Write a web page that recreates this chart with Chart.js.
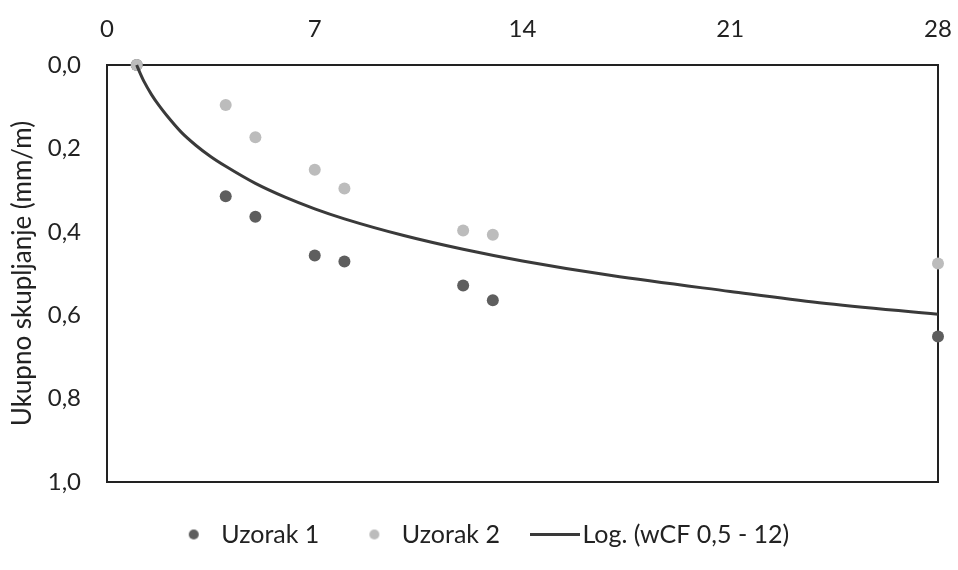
<!DOCTYPE html>
<html><head><meta charset="utf-8">
<script src="https://cdn.jsdelivr.net/npm/chart.js@4.4.0/dist/chart.umd.min.js"></script>
<style>html,body{margin:0;padding:0;background:#fff;} canvas{display:block;}</style>
</head><body>
<canvas id="c" width="958" height="570"></canvas>
<script>
const days = [1, 4, 5, 7, 8, 12, 13, 28];
const uzorak1 = [0, 0.315, 0.364, 0.457, 0.471, 0.529, 0.564, 0.651];
const uzorak2 = [0, 0.096, 0.173, 0.251, 0.296, 0.397, 0.407, 0.476];
const trendDays = [1, 1.1, 1.25, 1.5, 1.75, 2, 2.5, 3, 3.5, 4, 5, 6, 7, 8, 10, 12, 14, 17, 21, 24, 28];
const trendValues = [0, 0.017, 0.04, 0.071, 0.097, 0.12, 0.161, 0.193, 0.22, 0.243, 0.284, 0.317, 0.345, 0.369, 0.409, 0.442, 0.47, 0.505, 0.543, 0.57, 0.598];
const xTickValues = [0, 7, 14, 21, 28];
const yTickValues = [0, 0.2, 0.4, 0.6, 0.8, 1.0];
const seriesNames = ['Uzorak 1', 'Uzorak 2', 'Log. (wCF 0,5 - 12)'];
const yTitle = 'Ukupno skupljanje (mm/m)';

const C1 = '#5e5e5e', C2 = '#bcbcbc', CL = '#3a3a3a', TXT = '#222222';
const FONT = 'Lato';

function dotImg(color, r) {
  const c = document.createElement('canvas');
  c.width = c.height = 2 * r + 2;
  const x = c.getContext('2d');
  x.fillStyle = color; x.beginPath(); x.arc(r + 1, r + 1, r, 0, Math.PI * 2); x.fill();
  return c;
}
function lineImg(color, w, h) {
  const c = document.createElement('canvas');
  c.width = w; c.height = h + 2;
  const x = c.getContext('2d');
  x.fillStyle = color; x.fillRect(0, 1, w, h);
  return c;
}
const legendIcons = [dotImg(C1, 5), dotImg(C2, 5), lineImg(CL, 50, 3)];

const frame = {
  id: 'frame',
  afterLayout(chart) {
    if (chart.legend) chart.legend.left += 30;
  },
  beforeDatasetsDraw(chart) {
    const {ctx, chartArea: a} = chart;
    ctx.save();
    ctx.strokeStyle = '#222';
    ctx.lineWidth = 2;
    ctx.strokeRect(a.left, a.top, a.right - a.left, a.bottom - a.top);
    ctx.restore();
  }
};

const toPts = (xs, ys) => xs.map((x, i) => ({x, y: ys[i]}));
const fmt = v => v.toFixed(1).replace('.', ',');

new Chart(document.getElementById('c'), {
  type: 'scatter',
  data: {
    datasets: [
      {label: seriesNames[0], data: toPts(days, uzorak1), backgroundColor: C1, borderWidth: 0, pointRadius: 6, order: 2, clip: false},
      {label: seriesNames[1], data: toPts(days, uzorak2), backgroundColor: C2, borderWidth: 0, pointRadius: 6, order: 1, clip: false},
      {label: seriesNames[2], type: 'line', data: toPts(trendDays, trendValues), borderColor: CL, borderWidth: 3, pointRadius: 0, fill: false, cubicInterpolationMode: 'monotone', order: 0, clip: false}
    ]
  },
  options: {
    responsive: false,
    animation: false,
    devicePixelRatio: 1,
    layout: {padding: {left: 0, right: 20, top: 0, bottom: 13}},
    plugins: {
      tooltip: {enabled: false},
      legend: {
        position: 'bottom',
        labels: {
          usePointStyle: true,
          pointStyleWidth: 30,
          padding: 40,
          color: TXT,
          font: {family: FONT, size: 25},
          generateLabels: chart => seriesNames.map((n, i) => ({
            text: n, datasetIndex: i, pointStyle: legendIcons[i], fontColor: TXT,
            fillStyle: 'transparent', strokeStyle: 'transparent', lineWidth: 0, hidden: false
          }))
        }
      }
    },
    scales: {
      x: {
        type: 'linear', position: 'top', min: 0, max: 28,
        grid: {display: false, drawTicks: false}, border: {display: false},
        afterBuildTicks: s => { s.ticks = xTickValues.map(v => ({value: v})); },
        afterFit: s => { s.height = 65; s.paddingLeft = 0; s.paddingRight = 0; },
        ticks: {color: TXT, font: {family: FONT, size: 24}, padding: 21, maxRotation: 0, autoSkip: false}
      },
      y: {
        type: 'linear', reverse: true, min: 0, max: 1,
        grid: {display: false, drawTicks: false}, border: {display: false},
        afterBuildTicks: s => { s.ticks = yTickValues.map(v => ({value: v})); },
        afterFit: s => { s.width = 107; s.paddingTop = 0; s.paddingBottom = 0; },
        ticks: {color: TXT, font: {family: FONT, size: 24}, padding: 26, callback: v => fmt(v)},
        title: {display: true, text: yTitle, color: TXT, font: {family: FONT, size: 26}, padding: {top: 7, bottom: 0}}
      }
    }
  },
  plugins: [frame]
});
</script>
</body></html>
